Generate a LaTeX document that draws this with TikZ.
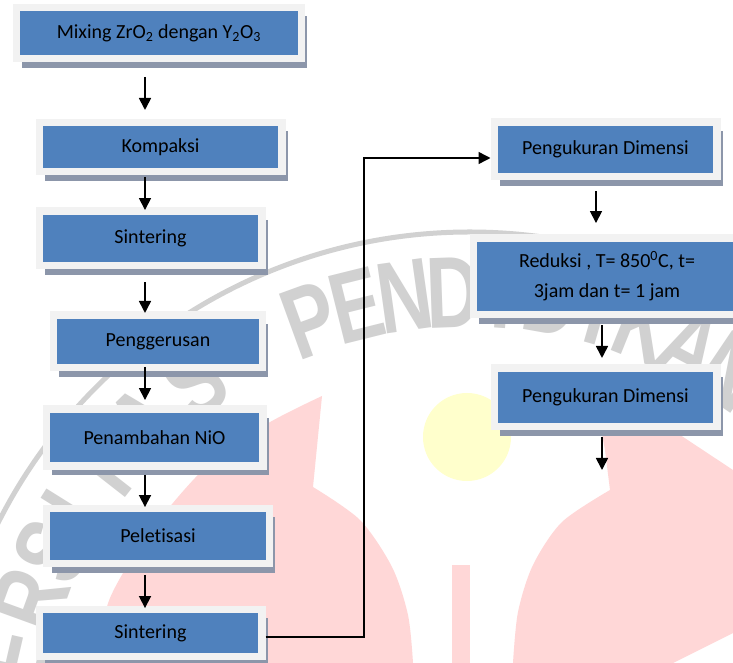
\documentclass[tikz,border=0pt]{standalone}
\usepackage{fontspec}
\setmainfont{Carlito}[Ligatures=NoCommon]
\newfontfamily\wmfont{Liberation Sans}
\usepackage{xcolor}
\usepackage{tikz}
\usetikzlibrary{arrows.meta}
\usetikzlibrary{positioning}
\usetikzlibrary{calc}
\usetikzlibrary{shadows}

\definecolor{boxblue}{HTML}{4F81BD}
\definecolor{framegray}{HTML}{F2F2F2}
\definecolor{shadowc}{HTML}{8C96AA}
\definecolor{pinkw}{HTML}{FFD7D7}
\definecolor{yelloww}{HTML}{FFFFCC}

\tikzset{
	proc/.style={rectangle, fill=boxblue, draw=framegray, line width=5.6pt, inner sep=0pt, align=center,
		font=\fontsize{15}{22.5}\selectfont,
		drop shadow={shadow xshift=4.3pt, shadow yshift=-6.6pt, fill=shadowc, opacity=1}},
	arr/.style={-{Triangle[width=9pt,length=9pt]}, line width=1.3pt},
	wmark/.style={text=black!18, font=\wmfont\bfseries\fontsize{76}{76}\selectfont, inner sep=0pt}
}

\begin{document}
\begin{tikzpicture}[x=0.75pt, y=-0.75pt]
	\useasboundingbox (0,0) rectangle (733,663);
	\clip (0,0) rectangle (733,663);
	\fill[white] (0,0) rectangle (733,663);
	% watermark
	\fill[pinkw] plot[smooth] coordinates {(95,663) (110,598) (150,532) (205,468) (265,425) (322,396)} -- (313,487) -- plot[smooth] coordinates {(313,487) (360,520) (392,567) (408,615) (413,663)} -- cycle;
	\fill[pinkw] plot[smooth] coordinates {(513,663) (518,612) (533,565) (562,522) (610,490)} -- (605,450) -- (600,425) -- (665,425) -- (733,470) -- (733,633) -- (673,663) -- cycle;
	\fill[pinkw] (452,565) rectangle (470,663);
	\fill[yelloww] (467,437) circle[radius=44];
	\begin{scope}[shift={(470,760)}]
		\draw[black!18, line width=3.75pt] ({-178}:528) arc[start angle=-178, end angle=-60, radius=528];
		\foreach \ch/\ang in {E/167, R/160, S/153.5, I/148, T/142, A/134, S/126, P/110, E/104, N/98, D/92, I/86, D/80, I/74, K/68, A/62, N/56}
			\node[wmark, rotate=\ang-90] at ({-\ang}:468) {\scalebox{0.75}[1]{\ch}};
	\end{scope}

	% left column
	\node[proc, minimum width=214.1pt, minimum height=38.6pt] (mix) at (159,33) {Mixing ZrO\textsubscript{2} dengan Y\textsubscript{2}O\textsubscript{3}};
	\node[proc, minimum width=181.9pt, minimum height=37.1pt] (kompaksi) at (160.5,147) {Kompaksi};
	\node[proc, minimum width=166.9pt, minimum height=40.9pt] (sinter1) at (150.5,238.5) {Sintering};
	\node[proc, minimum width=157.1pt, minimum height=39.4pt] (gerus) at (158,341.5) {Penggerusan};
	\node[proc, minimum width=162.4pt, minimum height=42.4pt] (nio) at (154.5,437.5) {Penambahan NiO};
	\node[proc, minimum width=167.6pt, minimum height=41.6pt] (pelet) at (158,536) {Peletisasi};
	\node[proc, minimum width=166.9pt, minimum height=35.6pt] (sinter2) at (150.5,633) {Sintering};
	% right column
	\node[proc, minimum width=166.9pt, minimum height=40.9pt] (ukur1) at (605.5,149.5) {Pengukuran Dimensi};
	\node[proc, minimum width=200.6pt, minimum height=57.4pt] (reduksi) at (607,276.5) {Reduksi , T= 850\textsuperscript{0}C, t=\\3jam dan t= 1 jam};
	\node[proc, minimum width=166.9pt, minimum height=43.9pt] (ukur2) at (605.5,397.5) {Pengukuran Dimensi};

	\coordinate (colA) at (145,0);
	\coordinate (colB) at (596,0);
	\coordinate (colC) at (602,0);
	\coordinate (bend) at (364,158);
	\coordinate (akhir) at (602,470);

	\draw[arr, shorten <=10.9pt, shorten >=6.4pt] (mix.south -| colA) -- (kompaksi.north -| colA);
	\draw[arr, shorten <=1.1pt, shorten >=-1.9pt] (kompaksi.south -| colA) -- (sinter1.north -| colA);
	\draw[arr, shorten <=9.4pt, shorten >=-1.1pt] (sinter1.south -| colA) -- (gerus.north -| colA);
	\draw[arr, shorten <=-3.4pt, shorten >=4.1pt] (gerus.south -| colA) -- (nio.north -| colA);
	\draw[arr, shorten <=4.1pt, shorten >=-1.9pt] (nio.south -| colA) -- (pelet.north -| colA);
	\draw[arr, shorten <=5.6pt, shorten >=-1.9pt] (pelet.south -| colA) -- (sinter2.north -| colA);
	\draw[arr, line width=1.1pt] ([yshift=-3pt]sinter2.east) -| (bend) -- (bend -| ukur1.west);
	\draw[arr, shorten <=7.9pt, shorten >=8.6pt] (ukur1.south -| colB) -- (reduksi.north -| colB);
	\draw[arr, shorten <=4.9pt, shorten >=4.9pt] (reduksi.south -| colC) -- (ukur2.north -| colC);
	\draw[arr, shorten <=4.9pt] (ukur2.south -| colC) -- (akhir);
\end{tikzpicture}
\end{document}
